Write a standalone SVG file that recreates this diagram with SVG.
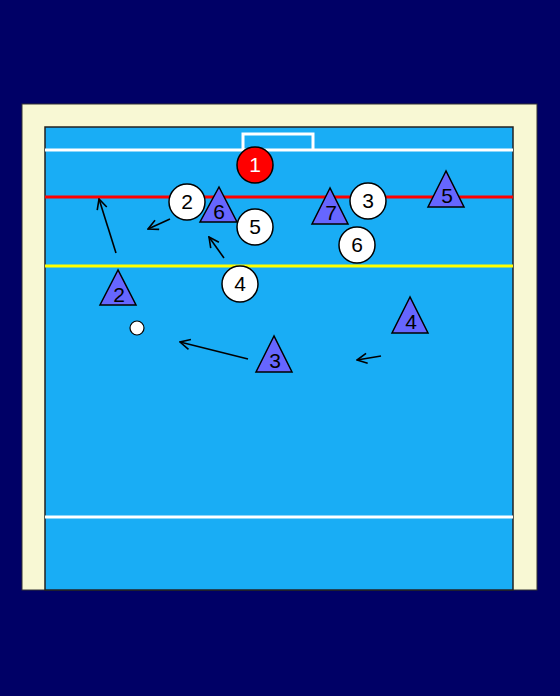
<svg xmlns="http://www.w3.org/2000/svg" width="560" height="696" viewBox="0 0 560 696">
<defs>
<style>
.pl{fill:#fff;stroke:#000;stroke-width:1.5}
.tri{fill:#6666ff;stroke:#000;stroke-width:1.5;stroke-linejoin:miter}
.t{font-family:"Liberation Sans",Arial,sans-serif;font-size:21px;text-anchor:middle;fill:#000}
.mv{fill:none;stroke:#000;stroke-width:1.6;marker-end:url(#ah)}
</style>
<marker id="ah" viewBox="0 0 12 12" refX="11" refY="6" markerWidth="12" markerHeight="12" markerUnits="userSpaceOnUse" orient="auto">
<polyline points="1,1 11,6 1,11" fill="none" stroke="#000" stroke-width="1.6"/>
</marker>
</defs>
<rect x="0" y="0" width="560" height="696" fill="#000066"/>
<g id="field">
<rect x="22" y="104" width="515" height="486" fill="#f8f8d4" stroke="#333" stroke-width="1"/>
<rect x="45" y="127" width="468" height="463" fill="#19adf5" stroke="#222" stroke-width="1.5"/>
<line x1="45" y1="150" x2="513" y2="150" stroke="#fff" stroke-width="3"/>
<polyline points="243,150 243,134 313,134 313,150" fill="none" stroke="#fff" stroke-width="3"/>
<line x1="45" y1="197" x2="513" y2="197" stroke="#ff0000" stroke-width="3"/>
<line x1="45" y1="266" x2="513" y2="266" stroke="#ffff00" stroke-width="3"/>
<line x1="45" y1="517" x2="513" y2="517" stroke="#fff" stroke-width="3"/>
</g>
<g id="connectors">
<line class="mv" x1="116" y1="253" x2="99" y2="199"/>
<line class="mv" x1="170" y1="219" x2="148" y2="229"/>
<line class="mv" x1="224" y1="258" x2="209" y2="237"/>
<line class="mv" x1="248" y1="359" x2="180" y2="342"/>
<line class="mv" x1="381" y1="356" x2="357" y2="360"/>
</g>
<g id="gk1"><circle cx="255" cy="165" r="18" fill="#ff0000" stroke="#000" stroke-width="1.5"/><text class="t" x="255" y="172" style="fill:#fff">1</text></g>
<g id="w2"><circle class="pl" cx="187" cy="202" r="18"/><text class="t" x="187" y="209">2</text></g>
<g id="w3"><circle class="pl" cx="368" cy="201" r="18"/><text class="t" x="368" y="208">3</text></g>
<g id="w4"><circle class="pl" cx="240" cy="284" r="18"/><text class="t" x="240" y="291">4</text></g>
<g id="w5"><circle class="pl" cx="255" cy="227" r="18"/><text class="t" x="255" y="234">5</text></g>
<g id="w6"><circle class="pl" cx="357" cy="245" r="18"/><text class="t" x="357" y="252">6</text></g>
<g id="b2"><polygon class="tri" points="118,270 100,305 136,305"/><text class="t" x="119" y="302">2</text></g>
<g id="b3"><polygon class="tri" points="274,336 256,372 292,372"/><text class="t" x="275" y="368">3</text></g>
<g id="b4"><polygon class="tri" points="410,297 392,333 428,333"/><text class="t" x="411" y="329">4</text></g>
<g id="b5"><polygon class="tri" points="446,171 428,207 464,207"/><text class="t" x="447" y="203">5</text></g>
<g id="b6"><polygon class="tri" points="219,187 200,222 237,222"/><text class="t" x="219" y="219">6</text></g>
<g id="b7"><polygon class="tri" points="330,188 312,224 348,224"/><text class="t" x="331" y="220">7</text></g>
<g id="ball"><circle cx="137" cy="328" r="7" fill="#fff" stroke="#000" stroke-width="1.2"/></g>
</svg>
